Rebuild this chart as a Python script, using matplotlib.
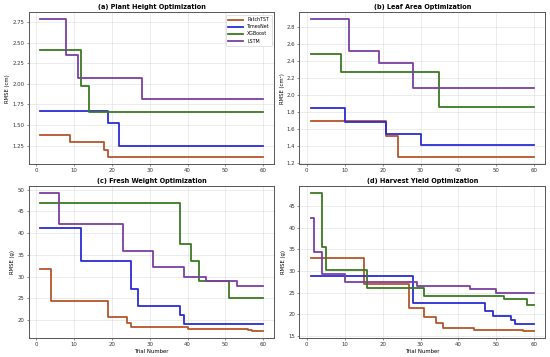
import matplotlib
matplotlib.use("Agg")
import matplotlib.pyplot as plt

last_trial = 60

model_names = ["PatchTST", "TimesNet", "XGBoost", "LSTM"]
model_colors = ["#b5562b", "#2b2bd6", "#3a7a22", "#7b3fa0"]

# (a) Plant Height: trial where best RMSE improved, and the new best value
ph_patchtst_x = [1, 9, 18, 19]
ph_patchtst_y = [1.375, 1.29, 1.20, 1.11]
ph_timesnet_x = [1, 19, 22]
ph_timesnet_y = [1.67, 1.52, 1.245]
ph_xgboost_x = [1, 12, 14]
ph_xgboost_y = [2.41, 1.97, 1.66]
ph_lstm_x = [1, 8, 11, 28]
ph_lstm_y = [2.78, 2.35, 2.07, 1.82]

# (b) Leaf Area
la_patchtst_x = [1, 21, 24]
la_patchtst_y = [1.70, 1.515, 1.27]
la_timesnet_x = [1, 10, 21, 30]
la_timesnet_y = [1.85, 1.68, 1.54, 1.41]
la_xgboost_x = [1, 9, 35]
la_xgboost_y = [2.485, 2.27, 1.86]
la_lstm_x = [1, 11, 19, 28]
la_lstm_y = [2.885, 2.51, 2.375, 2.08]

# (c) Fresh Weight
fw_patchtst_x = [1, 4, 19, 24, 25, 40, 56, 57]
fw_patchtst_y = [31.8, 24.5, 20.8, 19.3, 18.55, 18.05, 17.8, 17.5]
fw_timesnet_x = [1, 12, 25, 27, 38, 39]
fw_timesnet_y = [41.3, 33.7, 27.2, 23.2, 21.2, 19.1]
fw_xgboost_x = [1, 38, 41, 43, 51]
fw_xgboost_y = [47.0, 37.6, 33.6, 28.9, 25.1]
fw_lstm_x = [1, 6, 23, 31, 39, 45, 53]
fw_lstm_y = [49.2, 42.1, 36.0, 32.2, 29.9, 28.9, 27.8]

# (d) Harvest Yield
hy_patchtst_x = [1, 15, 27, 31, 34, 36, 44, 57]
hy_patchtst_y = [33.0, 27.1, 21.4, 19.5, 18.1, 16.9, 16.5, 16.15]
hy_timesnet_x = [1, 28, 47, 49, 54, 55]
hy_timesnet_y = [28.8, 22.6, 20.7, 19.7, 18.8, 17.9]
hy_xgboost_x = [1, 4, 5, 16, 31, 52, 58]
hy_xgboost_y = [48.0, 35.6, 30.2, 26.2, 24.3, 23.6, 22.2]
hy_lstm_x = [1, 2, 4, 10, 29, 43, 50]
hy_lstm_y = [42.3, 34.5, 29.4, 27.4, 26.5, 25.8, 24.85]

panels = [
    ("(a) Plant Height Optimization", "RMSE (cm)",
     [(ph_patchtst_x, ph_patchtst_y), (ph_timesnet_x, ph_timesnet_y),
      (ph_xgboost_x, ph_xgboost_y), (ph_lstm_x, ph_lstm_y)]),
    ("(b) Leaf Area Optimization", "RMSE (cm²)",
     [(la_patchtst_x, la_patchtst_y), (la_timesnet_x, la_timesnet_y),
      (la_xgboost_x, la_xgboost_y), (la_lstm_x, la_lstm_y)]),
    ("(c) Fresh Weight Optimization", "RMSE (g)",
     [(fw_patchtst_x, fw_patchtst_y), (fw_timesnet_x, fw_timesnet_y),
      (fw_xgboost_x, fw_xgboost_y), (fw_lstm_x, fw_lstm_y)]),
    ("(d) Harvest Yield Optimization", "RMSE (g)",
     [(hy_patchtst_x, hy_patchtst_y), (hy_timesnet_x, hy_timesnet_y),
      (hy_xgboost_x, hy_xgboost_y), (hy_lstm_x, hy_lstm_y)]),
]

fig, axes = plt.subplots(2, 2, figsize=(5.5, 3.57), dpi=100)
plt.subplots_adjust(left=0.052, right=0.9916, top=0.965, bottom=0.0532,
                    wspace=0.1016, hspace=0.145)

for i, (ax, (title, ylabel, series)) in enumerate(zip(axes.flat, panels)):
    for name, color, (xs, ys) in zip(model_names, model_colors, series):
        # extend the last best value up to the final trial
        ax.step(xs + [last_trial], ys + [ys[-1]], where="post",
                color=color, linewidth=1.3, label=name)
    ax.set_title(title, fontsize=4.7, fontweight="bold", pad=2.5)
    ax.set_ylabel(ylabel, fontsize=3.8, labelpad=1.5)
    if i >= 2:
        ax.set_xlabel("Trial Number", fontsize=3.9, labelpad=1.5)
    ax.set_xticks([0, 10, 20, 30, 40, 50, 60])
    ax.tick_params(labelsize=3.9, length=1.5, width=0.4, pad=1.5, colors="#333333")
    ax.grid(True, color="#c8c8c8", linewidth=0.4, alpha=0.6)
    for sp in ax.spines.values():
        sp.set_color("#555555")
        sp.set_linewidth(0.7)

leg = axes[0, 0].legend(loc="upper right", fontsize=3.4, handlelength=3.2,
                        borderpad=0.5, labelspacing=0.45, framealpha=1.0)
leg.get_frame().set_linewidth(0.4)

fig.savefig("out.png", dpi=100)
